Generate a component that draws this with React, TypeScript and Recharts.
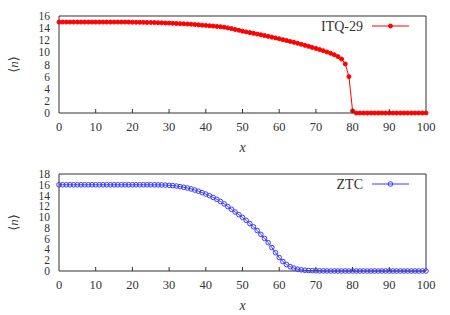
import React from 'react';
import { LineChart, Line, XAxis, YAxis, ReferenceLine } from 'recharts';

// average occupancy <n> along x, one value per integer x = 0..100
const itqValues = [
  15.0, 15.0, 15.0, 15.0, 15.0, 15.0, 15.0, 15.0, 15.0, 15.0,
  15.0, 15.0, 15.0, 15.0, 15.0, 15.0, 15.0, 15.0, 15.0, 15.0,
  14.98, 14.97, 14.96, 14.95, 14.94, 14.93, 14.91, 14.89, 14.87, 14.85,
  14.83, 14.8, 14.77, 14.74, 14.71, 14.68, 14.64, 14.59, 14.54, 14.49,
  14.44, 14.39, 14.34, 14.28, 14.22, 14.15, 14.04, 13.92, 13.78, 13.64,
  13.5, 13.38, 13.26, 13.14, 13.02, 12.9, 12.77, 12.64, 12.51, 12.38,
  12.25, 12.1, 11.95, 11.8, 11.65, 11.5, 11.33, 11.16, 10.99, 10.82,
  10.65, 10.46, 10.27, 10.07, 9.85, 9.6, 9.3, 8.9, 8.1, 6.0,
  0.35, 0, 0, 0, 0, 0, 0, 0, 0, 0,
  0, 0, 0, 0, 0, 0, 0, 0, 0, 0,
  0,
];

const ztcValues = [
  16.0, 16.0, 16.0, 16.0, 16.0, 16.0, 16.0, 16.0, 16.0, 16.0,
  16.0, 16.0, 16.0, 16.0, 16.0, 16.0, 16.0, 16.0, 16.0, 16.0,
  16.0, 16.0, 16.0, 16.0, 16.0, 16.0, 15.99, 15.98, 15.97, 15.94,
  15.9, 15.84, 15.76, 15.66, 15.54, 15.4, 15.22, 15.02, 14.8, 14.55,
  14.28, 13.98, 13.65, 13.3, 12.9, 12.45, 11.95, 11.45, 10.95, 10.45,
  9.95, 9.4, 8.8, 8.2, 7.5, 6.8, 6.05, 5.25, 4.35, 3.4,
  2.5, 1.75, 1.2, 0.8, 0.52, 0.34, 0.22, 0.14, 0.09, 0.06,
  0.04, 0.03, 0.02, 0.01, 0, 0, 0, 0, 0, 0,
  0, 0, 0, 0, 0, 0, 0, 0, 0, 0,
  0, 0, 0, 0, 0, 0, 0, 0, 0, 0,
  0,
];

const xTicks = [0, 10, 20, 30, 40, 50, 60, 70, 80, 90, 100];
const itqTicks = [0, 2, 4, 6, 8, 10, 12, 14, 16];
const ztcTicks = [0, 2, 4, 6, 8, 10, 12, 14, 16, 18];

const itqData = itqValues.map((v, i) => ({ x: i, n: v }));
const ztcData = ztcValues.map((v, i) => ({ x: i, n: v }));

const FONT = '"Liberation Serif", "DejaVu Serif", serif';
const TEXT = '#333';
const AXIS = '#333';
const textStyle = { fontFamily: FONT };

const XTick = (props: any) => {
  const { x, y, payload } = props;
  return (
    <g>
      {payload.value !== 0 && payload.value !== 100 && (
        <line x1={x} x2={x} y1={y} y2={y - 4} stroke={AXIS} />
      )}
      <text x={x} y={y + 18} textAnchor="middle" fontSize={12.5} fontFamily={FONT} style={textStyle} fill={TEXT}>
        {payload.value}
      </text>
    </g>
  );
};

const YTick = (props: any) => {
  const { x, y, payload } = props;
  return (
    <text x={x} y={y + 4} textAnchor="end" fontSize={11.5} fontFamily={FONT} style={textStyle} fill={TEXT}>
      {payload.value}
    </text>
  );
};

const YLabel = ({ viewBox }: any) => {
  const cy = viewBox.y + viewBox.height / 2;
  return (
    <text
      x={13}
      y={cy}
      transform={`rotate(-90, 13, ${cy})`}
      textAnchor="middle"
      dominantBaseline="central"
      fontSize={13}
      fontFamily={FONT}
      style={textStyle}
      fill={TEXT}
    >
      ⟨<tspan fontStyle="italic">n</tspan>⟩
    </text>
  );
};

const XLabel = ({ viewBox }: any) => (
  <text
    x={viewBox.x + viewBox.width / 2}
    y={viewBox.y + 39}
    textAnchor="middle"
    fontSize={14}
    fontStyle="italic"
    fontFamily={FONT}
    style={textStyle}
    fill={TEXT}
  >
    x
  </text>
);

const LegendKey: React.FC<{ name: string; color: string; hollow: boolean; top: number }> = ({ name, color, hollow, top }) => (
  <svg width={140} height={16} style={{ position: 'absolute', left: 280, top, overflow: 'visible' }}>
    <text x={83} y={8} textAnchor="end" dominantBaseline="central" fontSize={14} fontFamily={FONT} style={textStyle} fill={TEXT}>
      {name}
    </text>
    <line x1={92} x2={129} y1={8} y2={8} stroke={color} strokeWidth={1} />
    <circle cx={110.5} cy={8} r={hollow ? 2.3 : 2} fill={hollow ? 'none' : color} stroke={color} />
  </svg>
);

interface PanelProps {
  data: { x: number; n: number }[];
  yMax: number;
  yTicks: number[];
  color: string;
  hollow: boolean;
  height: number;
  top: number;
  bottom: number;
}

const Panel: React.FC<PanelProps> = ({ data, yMax, yTicks, color, hollow, height, top, bottom }) => (
  <LineChart
    width={450}
    height={height}
    data={data}
    margin={{ top, right: 24, left: 0, bottom }}
    style={{ fontFamily: FONT }}
  >
    <XAxis
      dataKey="x"
      type="number"
      domain={[0, 100]}
      ticks={xTicks}
      tickSize={0}
      tickMargin={0}
      tick={<XTick />}
      height={10}
      stroke={AXIS}
      label={<XLabel />}
    />
    <YAxis
      type="number"
      domain={[0, yMax]}
      ticks={yTicks}
      interval={0}
      width={59}
      tickSize={0}
      tickMargin={9}
      tick={<YTick />}
      stroke={AXIS}
      label={<YLabel />}
    />
    <ReferenceLine y={yMax} stroke={AXIS} />
    <ReferenceLine x={100} stroke={AXIS} />
    <Line
      type="linear"
      dataKey="n"
      stroke={color}
      strokeWidth={1}
      dot={{ r: hollow ? 2.3 : 2, fill: hollow ? 'none' : color, stroke: color, strokeWidth: 1 }}
      activeDot={false}
      isAnimationActive={false}
    />
  </LineChart>
);

export default function App() {
  return (
    <div
      style={{
        position: 'absolute',
        left: 0,
        top: 0,
        width: 450,
        height: 315,
        background: '#fff',
        fontFamily: FONT,
      }}
    >
      <Panel data={itqData} yMax={16} yTicks={itqTicks} color="#ff0000" hollow={false} height={157} top={16} bottom={34} />
      <Panel data={ztcData} yMax={18} yTicks={ztcTicks} color="#3a3aff" hollow={true} height={158} top={17} bottom={34} />
      <LegendKey name="ITQ-29" color="#ff0000" hollow={false} top={18} />
      <LegendKey name="ZTC" color="#3a3aff" hollow={true} top={176} />
    </div>
  );
}
